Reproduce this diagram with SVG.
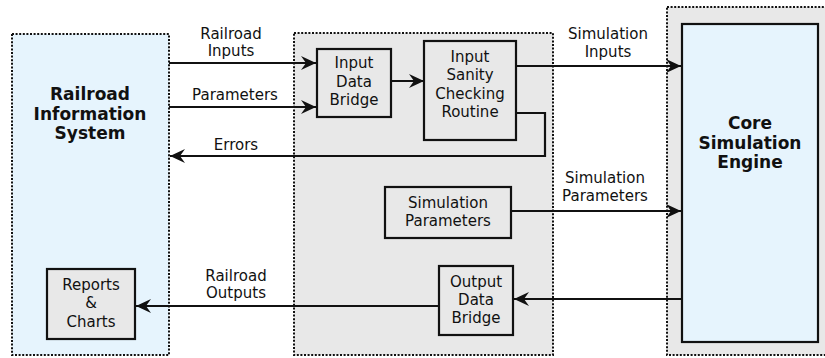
<svg xmlns="http://www.w3.org/2000/svg" width="825" height="358" viewBox="0 0 825 358">
<style>
text{font-family:"DejaVu Sans","Verdana",sans-serif;font-size:15px;fill:#111;text-anchor:middle}
.b{font-weight:bold;font-size:17px}
.zone{stroke:#111;stroke-width:2;stroke-dasharray:2 1.6}
.blue{fill:#e6f4fd}
.gray{fill:#e8e8e8}
.node{fill:#e8e8e8;stroke:#111;stroke-width:2.2}
.conn{fill:none;stroke:#111;stroke-width:2.2}
</style>
<defs>
<marker id="ah" markerUnits="userSpaceOnUse" markerWidth="16" markerHeight="15" refX="15" refY="7" orient="auto">
<path d="M0,0 L15,7 L0,14 L5,7 z" fill="#111"/>
</marker>
</defs>
<rect width="825" height="358" fill="#fff"/>
<g id="ris">
<rect x="12" y="34" width="157" height="321" class="zone blue"/>
<text class="b" x="90" y="100">Railroad</text>
<text class="b" x="90" y="120">Information</text>
<text class="b" x="90" y="139">System</text>
</g>
<g id="middle">
<rect x="294" y="33" width="259" height="322" class="zone gray"/>
</g>
<g id="engine-zone">
<rect x="667" y="7" width="170" height="348" class="zone gray"/>
</g>
<g id="reports">
<rect x="47" y="269" width="88" height="70" class="node"/>
<text x="91" y="290">Reports</text>
<text x="91" y="308">&amp;</text>
<text x="91" y="327">Charts</text>
</g>
<g id="idb">
<rect x="317" y="49" width="74" height="68" class="node"/>
<text x="354" y="68">Input</text>
<text x="354" y="87">Data</text>
<text x="354" y="105">Bridge</text>
</g>
<g id="iscr">
<rect x="424" y="41" width="92" height="99" class="node"/>
<text x="470" y="62">Input</text>
<text x="470" y="80">Sanity</text>
<text x="470" y="99">Checking</text>
<text x="470" y="117">Routine</text>
</g>
<g id="simparams">
<rect x="385" y="187" width="126" height="51" class="node"/>
<text x="448" y="208">Simulation</text>
<text x="448" y="226">Parameters</text>
</g>
<g id="odb">
<rect x="439" y="266" width="74" height="69" class="node"/>
<text x="476" y="287">Output</text>
<text x="476" y="305">Data</text>
<text x="476" y="323">Bridge</text>
</g>
<g id="engine">
<rect x="682" y="24" width="136" height="318" fill="#e6f4fd" stroke="#111" stroke-width="2.2"/>
<text class="b" x="750" y="129">Core</text>
<text class="b" x="750" y="149">Simulation</text>
<text class="b" x="750" y="168">Engine</text>
</g>
<g id="connectors">
<path class="conn" d="M169,63 H316" marker-end="url(#ah)"/>
<path class="conn" d="M169,107 H316" marker-end="url(#ah)"/>
<path class="conn" d="M391,81 H424" marker-end="url(#ah)"/>
<path class="conn" d="M516,66 H681" marker-end="url(#ah)"/>
<path class="conn" d="M516,113 H545 V156 H170" marker-end="url(#ah)"/>
<path class="conn" d="M511,211 H681" marker-end="url(#ah)"/>
<path class="conn" d="M682,299 H514" marker-end="url(#ah)"/>
<path class="conn" d="M439,306 H136" marker-end="url(#ah)"/>
<text x="231" y="39">Railroad</text>
<text x="231" y="56">Inputs</text>
<text x="235" y="100">Parameters</text>
<text x="236" y="150">Errors</text>
<text x="608" y="39">Simulation</text>
<text x="608" y="57">Inputs</text>
<text x="605" y="183">Simulation</text>
<text x="605" y="201">Parameters</text>
<text x="236" y="281">Railroad</text>
<text x="236" y="298">Outputs</text>
</g>
</svg>
